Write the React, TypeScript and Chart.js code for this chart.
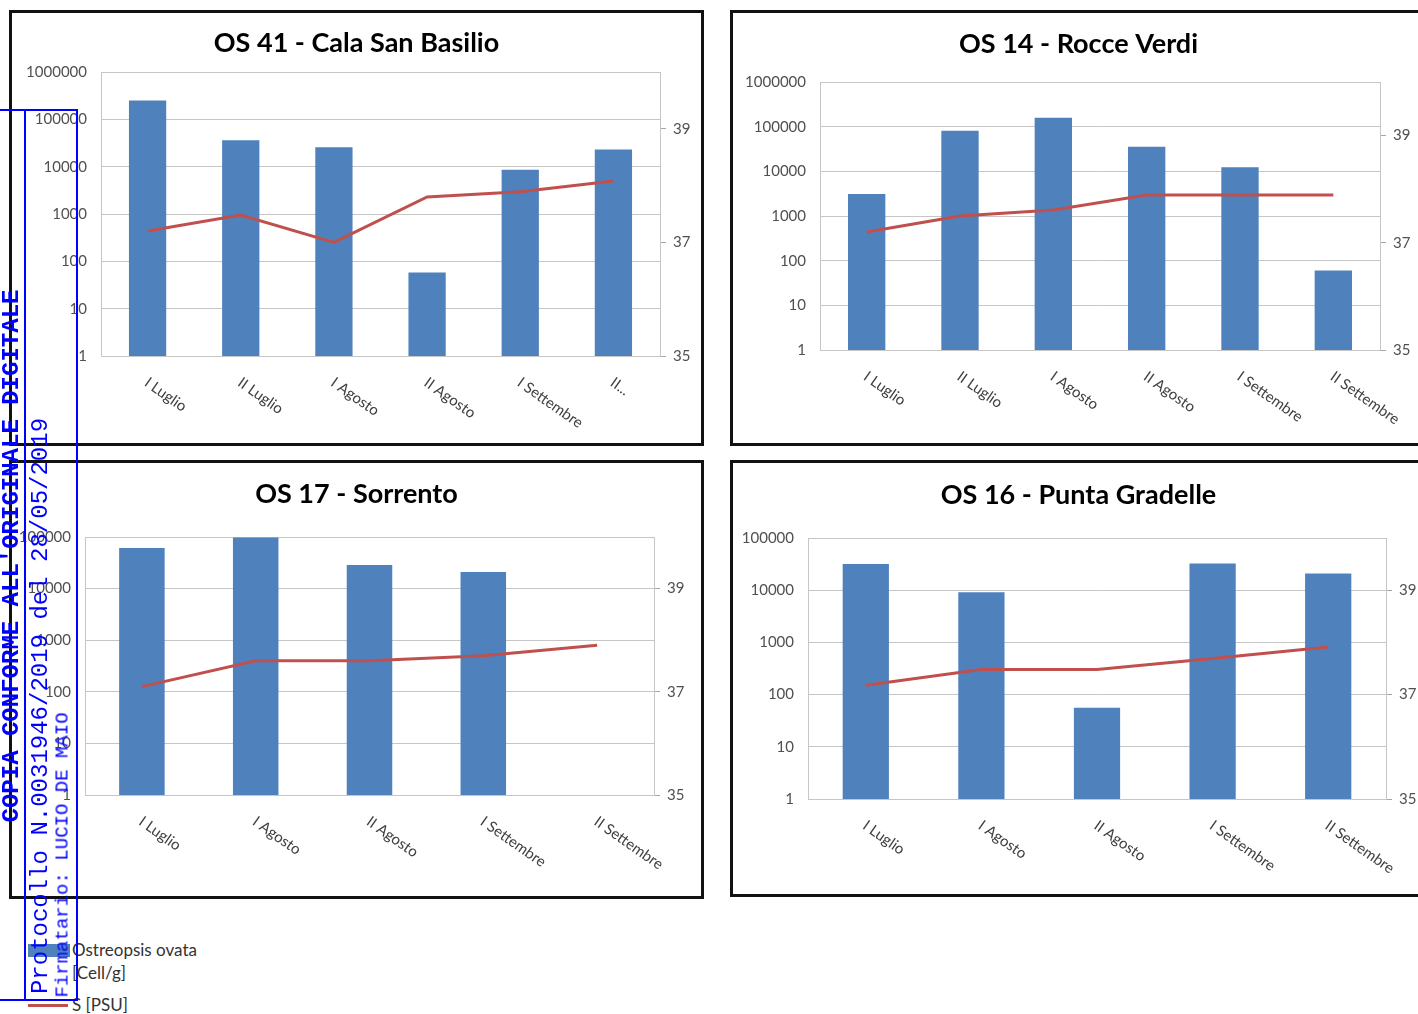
import React, { useEffect, useRef } from "react";
import { Chart, registerables } from "chart.js";

Chart.register(...registerables);

const BAR_COLOR = "#4F81BD";
const LINE_COLOR = "#C0504D";
const GRID_COLOR = "#c6c6c6";
const TICK_COLOR = "#505050";
const FONT = "Lato";

// OS 41 - Cala San Basilio
const os41Categories = ["I Luglio", "II Luglio", "I Agosto", "II Agosto", "I Settembre", "II..."];
const os41Cells = [250000, 36000, 25600, 58, 8600, 23000];
const os41Psu = [37.2, 37.48, 37.0, 37.8, 37.89, 38.08];

// OS 14 - Rocce Verdi
const os14Categories = ["I Luglio", "II Luglio", "I Agosto", "II Agosto", "I Settembre", "II Settembre"];
const os14Cells = [3100, 81000, 159000, 35700, 12300, 60];
const os14Psu = [37.2, 37.5, 37.61, 37.89, 37.89, 37.89];

// OS 17 - Sorrento
const os17Categories = ["I Luglio", "I Agosto", "II Agosto", "I Settembre", "II Settembre"];
const os17Cells = [61000, 98000, 28600, 21000, null];
const os17Psu = [37.1, 37.6, 37.6, 37.7, 37.9];

// OS 16 - Punta Gradelle
const os16Categories = ["I Luglio", "I Agosto", "II Agosto", "I Settembre", "II Settembre"];
const os16Cells = [31600, 9150, 56, 32500, 21000];
const os16Psu = [37.18, 37.48, 37.48, 37.69, 37.91];

const cellTicksMillion = [1, 10, 100, 1000, 10000, 100000, 1000000];
const cellTicksHundredK = [1, 10, 100, 1000, 10000, 100000];
const psuTicks = [35, 37, 39];
const psuMin = 35;
const psuMax = 40;

const decorPlugin = {
  id: "decor",
  afterDraw(chart: any, _args: any, opts: any) {
    const { ctx, chartArea, scales } = chart;
    ctx.save();
    ctx.fillStyle = "#000000";
    ctx.font = `bold 27px ${FONT}`;
    ctx.textAlign = "center";
    ctx.textBaseline = "middle";
    ctx.fillText(opts.title, chart.width / 2, opts.titleY);
    ctx.font = `15px ${FONT}`;
    ctx.fillStyle = "#404040";
    ctx.textAlign = "left";
    ctx.textBaseline = "top";
    const xs = scales.x;
    (chart.data.labels as string[]).forEach((lab, i) => {
      const x = xs.getPixelForValue(i);
      ctx.save();
      ctx.translate(x + 3, chartArea.bottom + 19);
      ctx.rotate((35 * Math.PI) / 180);
      ctx.fillText(lab, 0, 0);
      ctx.restore();
    });
    ctx.restore();
  },
};

type Spec = {
  title: string;
  categories: string[];
  cells: (number | null)[];
  psu: number[];
  cellTicks: number[];
  left: number;
  top: number;
  width: number;
  height: number;
  leftW: number;
  rightW: number;
  topPad: number;
  bottomH: number;
  titleY: number;
};

function Panel({ spec }: { spec: Spec }) {
  const ref = useRef<HTMLCanvasElement | null>(null);
  const innerW = spec.width - 6;
  const innerH = spec.height - 6;
  useEffect(() => {
    if (!ref.current) return;
    const tickFont = { family: FONT, size: 15 };
    const chart = new Chart(ref.current, {
      type: "bar",
      data: {
        labels: spec.categories,
        datasets: [
          {
            type: "line",
            label: "S [PSU]",
            data: spec.psu,
            yAxisID: "y2",
            borderColor: LINE_COLOR,
            backgroundColor: LINE_COLOR,
            borderWidth: 3,
            pointRadius: 0,
            tension: 0,
            order: 0,
          } as any,
          {
            type: "bar",
            label: "Ostreopsis ovata [Cell/g]",
            data: spec.cells,
            yAxisID: "y",
            backgroundColor: BAR_COLOR,
            barPercentage: 0.4,
            categoryPercentage: 1.0,
            order: 1,
          } as any,
        ],
      },
      options: {
        responsive: false,
        animation: false,
        devicePixelRatio: 1,
        layout: { padding: { top: spec.topPad, left: 0, right: 0, bottom: 0 } },
        plugins: {
          legend: { display: false },
          tooltip: { enabled: false },
          title: { display: false },
          decor: { title: spec.title, titleY: spec.titleY },
        } as any,
        scales: {
          x: {
            grid: { display: false },
            border: { display: true, color: GRID_COLOR },
            ticks: { display: false },
            afterFit: (s: any) => {
              s.height = spec.bottomH;
            },
          },
          y: {
            type: "logarithmic",
            position: "left",
            min: 1,
            max: spec.cellTicks[spec.cellTicks.length - 1],
            afterBuildTicks: (s: any) => {
              s.ticks = spec.cellTicks.map((v) => ({ value: v }));
            },
            ticks: {
              font: tickFont,
              color: TICK_COLOR,
              padding: 14,
              callback: (v: any) => String(v),
            },
            grid: { color: GRID_COLOR, drawTicks: false },
            border: { display: true, color: GRID_COLOR },
            afterFit: (s: any) => {
              s.width = spec.leftW;
            },
          },
          y2: {
            type: "linear",
            position: "right",
            min: psuMin,
            max: psuMax,
            afterBuildTicks: (s: any) => {
              s.ticks = psuTicks.map((v) => ({ value: v }));
            },
            ticks: {
              font: tickFont,
              color: TICK_COLOR,
              padding: 7,
              callback: (v: any) => String(v),
            },
            grid: { drawOnChartArea: false, drawTicks: true, tickLength: 6, color: "#a6a6a6" },
            border: { display: true, color: GRID_COLOR },
            afterFit: (s: any) => {
              s.width = spec.rightW;
            },
          },
        } as any,
      },
      plugins: [decorPlugin as any],
    });
    return () => chart.destroy();
  }, []);
  return (
    <div
      style={{
        position: "absolute",
        left: spec.left,
        top: spec.top,
        width: spec.width,
        height: spec.height,
        border: "3px solid #111",
        boxSizing: "border-box",
        background: "#fff",
      }}
    >
      <canvas ref={ref} width={innerW} height={innerH} style={{ display: "block", width: innerW, height: innerH }} />
    </div>
  );
}

const specs: Spec[] = [
  {
    title: "OS 41 - Cala San Basilio",
    categories: os41Categories,
    cells: os41Cells,
    psu: os41Psu,
    cellTicks: cellTicksMillion,
    left: 9, top: 10, width: 695, height: 436,
    leftW: 89, rightW: 41, topPad: 59, bottomH: 87, titleY: 30,
  },
  {
    title: "OS 14 - Rocce Verdi",
    categories: os14Categories,
    cells: os14Cells,
    psu: os14Psu,
    cellTicks: cellTicksMillion,
    left: 730, top: 10, width: 697, height: 436,
    leftW: 87, rightW: 44, topPad: 69, bottomH: 93, titleY: 31,
  },
  {
    title: "OS 17 - Sorrento",
    categories: os17Categories,
    cells: os17Cells,
    psu: os17Psu,
    cellTicks: cellTicksHundredK,
    left: 9, top: 460, width: 695, height: 439,
    leftW: 73, rightW: 47, topPad: 74, bottomH: 101, titleY: 31,
  },
  {
    title: "OS 16 - Punta Gradelle",
    categories: os16Categories,
    cells: os16Cells,
    psu: os16Psu,
    cellTicks: cellTicksHundredK,
    left: 730, top: 460, width: 697, height: 437,
    leftW: 75, rightW: 38, topPad: 75, bottomH: 95, titleY: 32,
  },
];

const BLUE = "#0000ff";

function RotText({ text, cx, cy, size, bold }: { text: string; cx: number; cy: number; size: number; bold?: boolean }) {
  return (
    <div
      style={{
        position: "absolute",
        left: cx,
        top: cy,
        transform: "translate(-50%, -50%) rotate(-90deg)",
        whiteSpace: "nowrap",
        fontFamily: "'Liberation Mono', 'DejaVu Sans Mono', monospace",
        fontSize: size,
        fontWeight: bold ? "bold" : "normal",
        color: BLUE,
        lineHeight: 1,
      }}
    >
      {text}
    </div>
  );
}

export default function App() {
  return (
    <div
      style={{
        position: "absolute",
        left: 0,
        top: 0,
        width: 1418,
        height: 1014,
        overflow: "hidden",
        background: "#fff",
        fontFamily: FONT,
      }}
    >
      {specs.map((s, i) => (
        <Panel key={i} spec={s} />
      ))}

      {/* legend */}
      <div style={{ position: "absolute", left: 28, top: 944, width: 42, height: 13, background: BAR_COLOR }} />
      <div style={{ position: "absolute", left: 72, top: 938, fontSize: 17, color: "#333", lineHeight: "23px", whiteSpace: "nowrap" }}>
        Ostreopsis ovata
        <br />
        [Cell/g]
      </div>
      <div style={{ position: "absolute", left: 28, top: 1004, width: 40, height: 3, background: LINE_COLOR }} />
      <div style={{ position: "absolute", left: 72, top: 993, fontSize: 17, color: "#333", lineHeight: "23px", whiteSpace: "nowrap" }}>
        S [PSU]
      </div>

      {/* stamp */}
      <div style={{ position: "absolute", left: 0, top: 109, width: 78, height: 2, background: BLUE }} />
      <div style={{ position: "absolute", left: 0, top: 999, width: 78, height: 2, background: BLUE }} />
      <div style={{ position: "absolute", left: 24, top: 109, width: 2, height: 892, background: BLUE }} />
      <div style={{ position: "absolute", left: 76, top: 109, width: 2, height: 892, background: BLUE }} />
      <RotText text="COPIA CONFORME ALL'ORIGINALE DIGITALE" cx={12} cy={556} size={24} bold />
      <RotText text="Protocollo N.0031946/2019 del 28/05/2019" cx={41} cy={706} size={24} />
      <RotText text="Firmatario: LUCIO DE MAIO" cx={63} cy={855} size={19} />
    </div>
  );
}
